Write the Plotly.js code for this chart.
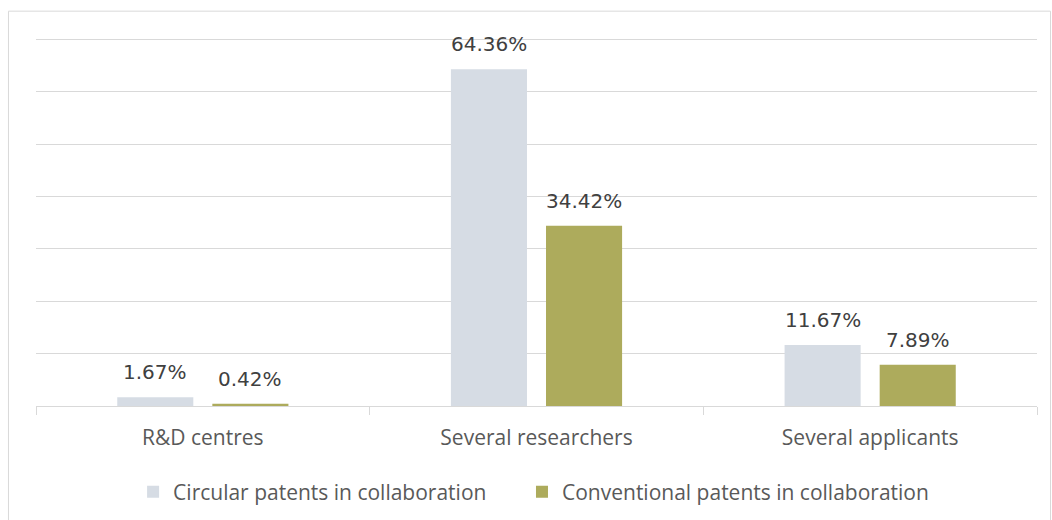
<!DOCTYPE html>
<html>
<head>
<meta charset="utf-8">
<script src="https://cdn.plot.ly/plotly-3.0.1.min.js"></script>
<style>
  html, body { margin: 0; padding: 0; background: #ffffff; }
  #chart { width: 1052px; height: 520px; }
</style>
</head>
<body>
<div id="chart"></div>
<script>
// Share of patents developed in collaboration, by type of collaboration
const categories = ['R&D centres', 'Several researchers', 'Several applicants'];
const seriesNames = ['Circular patents in collaboration', 'Conventional patents in collaboration'];
const circularValues = [1.67, 64.36, 11.67];
const conventionalValues = [0.42, 34.42, 7.89];
const seriesColors = ['#D6DCE4', '#ADAB5C'];

const labelFont = { family: 'DejaVu Sans, Verdana, sans-serif', size: 20, color: '#404040' };
const textFont = { family: 'Open Sans, Segoe UI, sans-serif', size: 21, color: '#595959' };

const traces = [
  { type: 'bar', name: seriesNames[0], x: categories, y: circularValues, legend: 'legend',
    marker: { color: seriesColors[0] }, hoverinfo: 'skip' },
  { type: 'bar', name: seriesNames[1], x: categories, y: conventionalValues, legend: 'legend2',
    marker: { color: seriesColors[1] }, hoverinfo: 'skip' }
];

// value labels above each bar (group offset of +/- half a slot on the category axis)
const bargap = 0.43;
const slot = (1 - bargap) / 2;
const annotations = [];
[circularValues, conventionalValues].forEach((vals, s) => {
  const offset = (s === 0 ? -0.5 : 0.5) * slot;
  vals.forEach((v, i) => {
    annotations.push({
      x: i + offset, y: v, xref: 'x', yref: 'y',
      text: v.toFixed(2) + '%', showarrow: false,
      yanchor: 'bottom', yshift: 11, font: labelFont
    });
  });
});

const legendBase = {
  orientation: 'h', xanchor: 'left', y: -0.178, yanchor: 'top',
  font: textFont, itemclick: false, bgcolor: 'rgba(0,0,0,0)'
};

const layout = {
  width: 1052, height: 520,
  margin: { l: 36, r: 15, t: 37, b: 114, autoexpand: false },
  paper_bgcolor: '#ffffff', plot_bgcolor: '#ffffff',
  barmode: 'group', bargap: bargap, bargroupgap: 0.2,
  showlegend: true,
  legend: Object.assign({}, legendBase, { x: 0.097 }),
  legend2: Object.assign({}, legendBase, { x: 0.4855 }),
  xaxis: {
    type: 'category', tickfont: textFont,
    showline: true, linecolor: '#D9D9D9', linewidth: 1,
    ticks: 'outside', tickson: 'boundaries', ticklen: 8, tickcolor: '#D9D9D9',
    ticklabelstandoff: 13,
    showgrid: false, fixedrange: true
  },
  yaxis: {
    range: [0, 70.5], tick0: 0, dtick: 10, showticklabels: false,
    showgrid: true, gridcolor: '#D9D9D9', gridwidth: 1,
    zeroline: false, showline: false, ticks: '', fixedrange: true
  },
  annotations: annotations,
  shapes: [{
    type: 'rect', xref: 'paper', yref: 'paper',
    x0: -0.0275, x1: 1.0135, y0: -0.35, y1: 1.07,
    line: { color: '#D9D9D9', width: 1 }, fillcolor: 'rgba(0,0,0,0)', layer: 'below'
  }]
};

Plotly.newPlot('chart', traces, layout, { displayModeBar: false, staticPlot: true });
</script>
</body>
</html>
